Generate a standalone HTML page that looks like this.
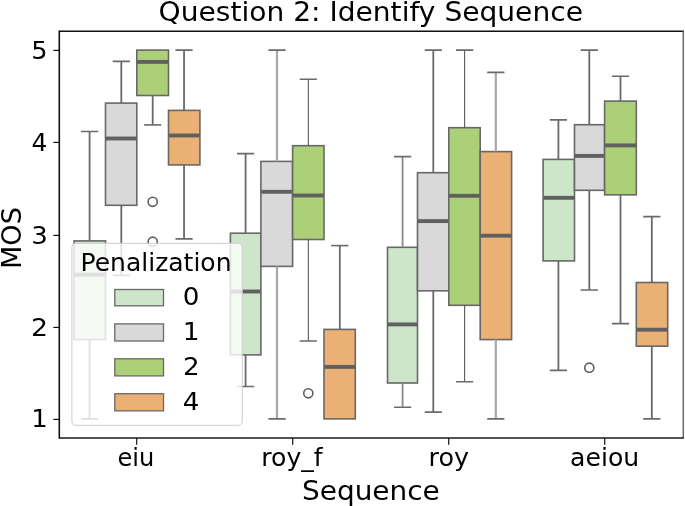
<!DOCTYPE html>
<html lang="en"><head><meta charset="utf-8"><title>Question 2: Identify Sequence</title>
<style>html,body{margin:0;padding:0;background:#fff;overflow:hidden}svg{display:block}</style>
</head><body>
<svg width="685" height="506" viewBox="0 0 685 506">
<rect width="685" height="506" fill="#fff"/>
<g id="boxes">
<rect x="74.1" y="240.9" width="31.4" height="98.6" fill="#cde6ca" stroke="#686868" stroke-width="1.6"/>
<path d="M89.6 240.9V131.5M89.6 339.5V418.9" stroke="#6a6a6a" stroke-width="1.8" fill="none"/>
<path d="M81.8 131.5H97.4M81.8 418.9H97.4" stroke="#6a6a6a" stroke-width="1.6" stroke-linecap="square" fill="none"/>
<path d="M74.4 274.7H105.2" stroke="#606060" stroke-width="3.9" fill="none"/>
<rect x="105.5" y="103.1" width="31.3" height="102.2" fill="#d9d9d9" stroke="#686868" stroke-width="1.6"/>
<path d="M121.3 103.1V61.4M121.3 205.3V275.4" stroke="#6a6a6a" stroke-width="1.8" fill="none"/>
<path d="M113.5 61.4H129.1M113.5 275.4H129.1" stroke="#6a6a6a" stroke-width="1.6" stroke-linecap="square" fill="none"/>
<path d="M105.8 138.5H136.5" stroke="#606060" stroke-width="3.9" fill="none"/>
<rect x="136.8" y="50.1" width="31.7" height="45.4" fill="#acd078" stroke="#686868" stroke-width="1.6"/>
<path d="M152.7 95.5V124.9" stroke="#6a6a6a" stroke-width="1.8" fill="none"/>
<path d="M144.9 124.9H160.5" stroke="#6a6a6a" stroke-width="1.6" stroke-linecap="square" fill="none"/>
<path d="M137.1 61.9H168.2" stroke="#606060" stroke-width="3.9" fill="none"/>
<circle cx="152.7" cy="201.8" r="4.6" fill="none" stroke="#5e5e5e" stroke-width="1.6"/>
<circle cx="152.7" cy="241.7" r="4.6" fill="none" stroke="#5e5e5e" stroke-width="1.6"/>
<rect x="168.5" y="110.4" width="31.4" height="54.5" fill="#eab074" stroke="#686868" stroke-width="1.6"/>
<path d="M184.05 110.4V50.1M184.05 164.9V238.9" stroke="#6a6a6a" stroke-width="1.8" fill="none"/>
<path d="M176.25 50.1H191.85M176.25 238.9H191.85" stroke="#6a6a6a" stroke-width="1.6" stroke-linecap="square" fill="none"/>
<path d="M168.8 135.5H199.6" stroke="#606060" stroke-width="3.9" fill="none"/>
<rect x="230.4" y="233.2" width="30.5" height="121.7" fill="#cde6ca" stroke="#686868" stroke-width="1.6"/>
<path d="M245.6 233.2V153.6M245.6 354.9V386.5" stroke="#6a6a6a" stroke-width="1.8" fill="none"/>
<path d="M237.8 153.6H253.4M237.8 386.5H253.4" stroke="#6a6a6a" stroke-width="1.6" stroke-linecap="square" fill="none"/>
<path d="M230.7 291.5H260.6" stroke="#606060" stroke-width="3.9" fill="none"/>
<rect x="260.9" y="161.4" width="31.7" height="105" fill="#d9d9d9" stroke="#686868" stroke-width="1.6"/>
<path d="M277 161.4V50.1M277 266.4V418.9" stroke="#a8a8a8" stroke-width="2.2" fill="none"/>
<path d="M269.2 50.1H284.8M269.2 418.9H284.8" stroke="#6a6a6a" stroke-width="1.6" stroke-linecap="square" fill="none"/>
<path d="M261.2 191.8H292.3" stroke="#606060" stroke-width="3.9" fill="none"/>
<rect x="292.6" y="145.7" width="31.4" height="93.8" fill="#acd078" stroke="#686868" stroke-width="1.6"/>
<path d="M308.3 145.7V79.2M308.3 239.5V341" stroke="#484848" stroke-width="1.0" fill="none"/>
<path d="M300.5 79.2H316.1M300.5 341H316.1" stroke="#6a6a6a" stroke-width="1.6" stroke-linecap="square" fill="none"/>
<path d="M292.9 195.5H323.7" stroke="#606060" stroke-width="3.9" fill="none"/>
<circle cx="308.3" cy="393.3" r="4.6" fill="none" stroke="#5e5e5e" stroke-width="1.6"/>
<rect x="324" y="329.4" width="31.3" height="89.5" fill="#eab074" stroke="#686868" stroke-width="1.6"/>
<path d="M339.8 329.4V245.6" stroke="#6a6a6a" stroke-width="1.8" fill="none"/>
<path d="M332 245.6H347.6" stroke="#6a6a6a" stroke-width="1.6" stroke-linecap="square" fill="none"/>
<path d="M324.3 366.9H355" stroke="#606060" stroke-width="3.9" fill="none"/>
<rect x="387.5" y="247.3" width="30" height="135.7" fill="#cde6ca" stroke="#686868" stroke-width="1.6"/>
<path d="M402.6 247.3V156.6M402.6 383V407.3" stroke="#8a8a8a" stroke-width="1.8" fill="none"/>
<path d="M394.8 156.6H410.4M394.8 407.3H410.4" stroke="#6a6a6a" stroke-width="1.6" stroke-linecap="square" fill="none"/>
<path d="M387.8 324.4H417.2" stroke="#606060" stroke-width="3.9" fill="none"/>
<rect x="417.5" y="172.7" width="31.3" height="118.1" fill="#d9d9d9" stroke="#686868" stroke-width="1.6"/>
<path d="M433.3 172.7V50.1M433.3 290.8V412.1" stroke="#6a6a6a" stroke-width="1.8" fill="none"/>
<path d="M425.5 50.1H441.1M425.5 412.1H441.1" stroke="#6a6a6a" stroke-width="1.6" stroke-linecap="square" fill="none"/>
<path d="M417.8 221.1H448.5" stroke="#606060" stroke-width="3.9" fill="none"/>
<rect x="448.8" y="127.7" width="31.4" height="177.6" fill="#acd078" stroke="#686868" stroke-width="1.6"/>
<path d="M464.65 127.7V50.1M464.65 305.3V381.7" stroke="#484848" stroke-width="1.0" fill="none"/>
<path d="M456.85 50.1H472.45M456.85 381.7H472.45" stroke="#6a6a6a" stroke-width="1.6" stroke-linecap="square" fill="none"/>
<path d="M449.1 195.8H479.9" stroke="#606060" stroke-width="3.9" fill="none"/>
<rect x="480.2" y="151.6" width="31.4" height="188" fill="#eab074" stroke="#686868" stroke-width="1.6"/>
<path d="M495.8 151.6V72.4M495.8 339.6V418.9" stroke="#a8a8a8" stroke-width="2.2" fill="none"/>
<path d="M488 72.4H503.6M488 418.9H503.6" stroke="#6a6a6a" stroke-width="1.6" stroke-linecap="square" fill="none"/>
<path d="M480.5 235.7H511.3" stroke="#606060" stroke-width="3.9" fill="none"/>
<rect x="543.1" y="159.4" width="31.4" height="101.5" fill="#cde6ca" stroke="#686868" stroke-width="1.6"/>
<path d="M558.4 159.4V119.9M558.4 260.9V370.4" stroke="#6a6a6a" stroke-width="1.8" fill="none"/>
<path d="M550.6 119.9H566.2M550.6 370.4H566.2" stroke="#6a6a6a" stroke-width="1.6" stroke-linecap="square" fill="none"/>
<path d="M543.4 197.8H574.2" stroke="#606060" stroke-width="3.9" fill="none"/>
<rect x="574.5" y="124.7" width="30.1" height="65.6" fill="#d9d9d9" stroke="#686868" stroke-width="1.6"/>
<path d="M589.3 124.7V50.1M589.3 190.3V290" stroke="#6a6a6a" stroke-width="1.8" fill="none"/>
<path d="M581.5 50.1H597.1M581.5 290H597.1" stroke="#6a6a6a" stroke-width="1.6" stroke-linecap="square" fill="none"/>
<path d="M574.8 155.9H604.3" stroke="#606060" stroke-width="3.9" fill="none"/>
<circle cx="589.3" cy="367.7" r="4.6" fill="none" stroke="#5e5e5e" stroke-width="1.6"/>
<rect x="604.6" y="101.1" width="31.7" height="93.7" fill="#acd078" stroke="#686868" stroke-width="1.6"/>
<path d="M620.5 101.1V76.2M620.5 194.8V323.6" stroke="#6a6a6a" stroke-width="1.8" fill="none"/>
<path d="M612.7 76.2H628.3M612.7 323.6H628.3" stroke="#6a6a6a" stroke-width="1.6" stroke-linecap="square" fill="none"/>
<path d="M604.9 145.4H636" stroke="#606060" stroke-width="3.9" fill="none"/>
<rect x="636.3" y="282.5" width="31.4" height="63.7" fill="#eab074" stroke="#686868" stroke-width="1.6"/>
<path d="M651.8 282.5V216.6M651.8 346.2V418.9" stroke="#6a6a6a" stroke-width="1.8" fill="none"/>
<path d="M644 216.6H659.6M644 418.9H659.6" stroke="#6a6a6a" stroke-width="1.6" stroke-linecap="square" fill="none"/>
<path d="M636.6 329.7H667.4" stroke="#606060" stroke-width="3.9" fill="none"/>
</g>
<path d="M59.3 30.55V438.85" stroke="#111" stroke-width="1.6" fill="none"/>
<path d="M59.3 31.3H684.0" stroke="#111" stroke-width="1.5" fill="none"/>
<path d="M683.3 31.3V438.0" stroke="#6c6c6c" stroke-width="1.5" fill="none"/>
<path d="M59.3 438.0H683.8" stroke="#1a1a1a" stroke-width="1.7" fill="none"/>
<g stroke="#111" stroke-width="1.2">
<path d="M59.3 50.4h-6"/>
<path d="M59.3 142.4h-6"/>
<path d="M59.3 235.4h-6"/>
<path d="M59.3 327.4h-6"/>
<path d="M59.3 419.4h-6"/>
<path d="M136.7 438v6.7"/>
<path d="M292.7 438v6.7"/>
<path d="M448.7 438v6.7"/>
<path d="M604.7 438v6.7"/>
</g>
<g font-family="'DejaVu Sans', 'Liberation Sans', sans-serif" fill="#000">
<text transform="translate(31.19 58.65) scale(1.0652 1)" font-size="24">5</text>
<text transform="translate(31.61 150.9) scale(1.0353 1)" font-size="24">4</text>
<text transform="translate(31.16 243.8) scale(1.0826 1)" font-size="24">3</text>
<text transform="translate(31.10 335.9) scale(1.1136 1)" font-size="24">2</text>
<text transform="translate(31.14 427.4) scale(1.0780 1)" font-size="24">1</text>
<text transform="translate(117.44 466.0) scale(0.9921 1)" font-size="24.3">eiu</text>
<text transform="translate(261.24 466.0) scale(1.0344 1)" font-size="24.3">roy_f</text>
<text transform="translate(428.52 466.0) scale(1.0451 1)" font-size="24.3">roy</text>
<text transform="translate(570.03 466.0) scale(1.0345 1)" font-size="24.3">aeiou</text>
<text transform="translate(158.59 20.7) scale(1.0725 1)" font-size="26.2">Question 2: Identify Sequence</text>
<text transform="translate(301.99 499.7) scale(1.0549 1)" font-size="26.5">Sequence</text>
<text transform="translate(20.7 269.06) rotate(-90) scale(1.0341 1)" font-size="26.2">MOS</text>
</g>
<g id="legend">
<rect x="71.9" y="243.3" width="170.4" height="182" rx="4" ry="4" fill="#fff" fill-opacity="0.8" stroke="#ccc" stroke-opacity="0.8" stroke-width="1.2"/>
<g font-family="'DejaVu Sans', 'Liberation Sans', sans-serif" fill="#000" font-size="24">
<text transform="translate(80.56 270.8) scale(1.0334 1)" font-size="24.2">Penalization</text>
<rect x="114.8" y="289.5" width="48.7" height="16.3" fill="#cde6ca" stroke="#686868" stroke-width="1.3"/>
<text transform="translate(182.76 305.3) scale(1.0939 1)" font-size="24">0</text>
<rect x="114.8" y="323.9" width="48.7" height="17.1" fill="#d9d9d9" stroke="#686868" stroke-width="1.3"/>
<text transform="translate(182.77 340.2) scale(1.1024 1)" font-size="24">1</text>
<rect x="114.8" y="358.8" width="48.7" height="17.1" fill="#acd078" stroke="#686868" stroke-width="1.3"/>
<text transform="translate(182.89 375.2) scale(1.0909 1)" font-size="24">2</text>
<rect x="114.8" y="393.75" width="48.7" height="17.1" fill="#eab074" stroke="#686868" stroke-width="1.3"/>
<text transform="translate(182.84 410.1) scale(1.0902 1)" font-size="24">4</text>
</g></g>
</svg>
</body></html>
